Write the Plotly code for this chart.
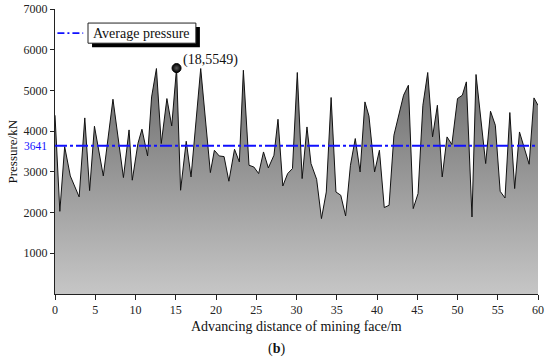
import plotly.graph_objects as go

# ---- data ----
distance = [0, 0.6, 1.2, 1.9, 3.0, 3.7, 4.3, 4.9, 6.0, 7.2,
            8.5, 9.2, 9.6, 10.3, 10.8, 11.5, 12.0, 12.6, 13.2, 13.9,
            14.5, 15.1, 15.6, 16.3, 16.9, 18.1, 19.3, 19.8, 20.4, 21.0,
            21.6, 22.3, 22.9, 23.4, 24.1, 24.7, 25.3, 25.9, 26.5, 27.2,
            27.7, 28.3, 28.9, 29.5, 30.1, 30.7, 31.3, 31.8, 32.5, 33.1,
            33.7, 34.3, 34.9, 35.5, 36.1, 36.7, 37.3, 37.9, 38.5, 39.0,
            39.7, 40.3, 40.9, 41.5, 42.1, 43.3, 43.9, 44.5, 45.1, 45.7,
            46.3, 46.9, 47.5, 48.1, 48.7, 49.3, 50.0, 50.6, 51.1, 51.8,
            52.3, 53.5, 54.1, 54.7, 55.3, 55.9, 56.5, 57.1, 57.7, 58.9,
            59.5, 60.0]
pressure = [4390, 2030, 3620, 2900, 2385, 4325, 2540, 4120, 2900, 4784,
            2860, 4030, 2795, 3695, 4047, 3391, 4840, 5538, 3695, 4800,
            4128, 5549, 2548, 3752, 2875, 5538, 2982, 3530, 3391, 3375,
            2770, 3555, 3243, 5496, 3162, 3120, 2958, 3489, 3096, 3408,
            4292, 2653, 2958, 3081, 5440, 2835, 4103, 3204, 2818, 1852,
            2506, 4826, 2506, 2425, 1916, 3162, 3818, 2998, 4718, 4373,
            2998, 3530, 2123, 2179, 3899, 4882, 5128, 2098, 2467, 4636,
            5440, 3858, 4636, 2875, 3858, 3671, 4800, 4882, 5210, 1892,
            5391, 3204, 4489, 4145, 2523, 2359, 4457, 2590, 3980, 3187,
            4816, 4636]
average_pressure = 3641
peak_x = 15.1
peak_y = 5549
peak_label = "(18,5549)"
x_ticks = [0, 5, 10, 15, 20, 25, 30, 35, 40, 45, 50, 55, 60]
y_ticks = [1000, 2000, 3000, 4000, 5000, 6000, 7000]
legend_label = "Average pressure"

FONT = "Liberation Serif, Times New Roman, serif"

fig = go.Figure()

fig.add_trace(go.Scatter(
    x=distance, y=pressure, mode="lines",
    line=dict(color="#111111", width=1),
    fill="tozeroy",
    fillgradient=dict(type="vertical",
                      colorscale=[[0, "rgb(198,198,198)"], [1, "rgb(108,108,108)"]],
                      start=0, stop=peak_y),
    showlegend=False, hoverinfo="skip"))

fig.add_trace(go.Scatter(
    x=[distance[0], distance[-1]], y=[average_pressure, average_pressure],
    mode="lines", line=dict(color="#1010ff", width=1.8, dash="12px,3px,3px,3px"),
    showlegend=False, hoverinfo="skip"))

fig.add_trace(go.Scatter(
    x=[peak_x], y=[peak_y], mode="markers",
    marker=dict(size=9, color="#000000",
                gradient=dict(type="radial", color="#5a5a5a"),
                line=dict(color="#000000", width=1)),
    showlegend=False, hoverinfo="skip"))

fig.add_annotation(x=peak_x, y=peak_y, text=peak_label, showarrow=False,
                   xanchor="left", yanchor="middle", xshift=4, yshift=8,
                   font=dict(family=FONT, size=14, color="#111111"))

# average value label on the y axis
fig.add_annotation(xref="paper", x=0, y=average_pressure, text=str(average_pressure),
                   showarrow=False, xanchor="right", yanchor="middle", xshift=-6,
                   font=dict(family=FONT, size=11.5, color="#1010ff"))

# manual legend (sample line outside box, box with shadow)
fig.add_shape(type="line", xref="x", yref="y", x0=0.3, x1=3.5, y0=6405, y1=6405,
              line=dict(color="#1010ff", width=1.8, dash="7px,3px,2px,3px"))
fig.add_shape(type="rect", xref="x", yref="y", x0=4.6, x1=18.0, y0=6060, y1=6555,
              fillcolor="black", line=dict(width=0))
fig.add_shape(type="rect", xref="x", yref="y", x0=4.1, x1=17.5, y0=6160, y1=6655,
              fillcolor="white", line=dict(color="#222222", width=1))
fig.add_annotation(x=4.45, y=6405, text=legend_label, showarrow=False,
                   xanchor="left", yanchor="middle",
                   font=dict(family=FONT, size=14, color="#111111"))

# axis titles and panel label as annotations (fixed positions)
fig.add_annotation(xref="paper", yref="paper", x=0.5, y=-0.08,
                   text="Advancing distance of mining face/m", showarrow=False,
                   xanchor="center", yanchor="top",
                   font=dict(family=FONT, size=14, color="#111111"))
fig.add_annotation(xref="paper", yref="paper", x=-0.087, y=0.5,
                   text="Pressure/kN", showarrow=False, textangle=-90,
                   xanchor="center", yanchor="middle",
                   font=dict(family=FONT, size=13, color="#111111"))
fig.add_annotation(xref="paper", yref="paper", x=0.458, y=-0.157,
                   text="(<b>b</b>)", showarrow=False, xanchor="center",
                   yanchor="top", font=dict(family=FONT, size=14, color="#111111"))

fig.update_xaxes(range=[0, 60], tickvals=x_ticks, ticks="outside", ticklen=5,
                 tickwidth=1, tickcolor="#222222", showline=True, linecolor="#222222",
                 linewidth=1, showgrid=False, zeroline=False, automargin=False,
                 tickfont=dict(family=FONT, size=12, color="#222222"))
fig.update_yaxes(range=[0, 7000], tickvals=y_ticks, ticks="outside", ticklen=4,
                 tickwidth=1, tickcolor="#222222", showline=True, linecolor="#222222",
                 linewidth=1, showgrid=False, zeroline=False, automargin=False,
                 tickfont=dict(family=FONT, size=12, color="#222222"))

fig.update_layout(width=550, height=360, margin=dict(l=55, r=12, t=9, b=66),
                  paper_bgcolor="white", plot_bgcolor="white", showlegend=False)

fig.write_html("out.html", config={"displayModeBar": False},
               post_script="document.body.style.margin='0';document.body.style.overflow='hidden';")
